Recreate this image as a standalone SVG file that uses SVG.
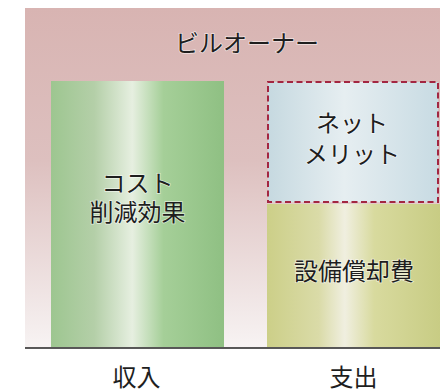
<svg xmlns="http://www.w3.org/2000/svg" width="440" height="391" viewBox="0 0 440 391">
<defs>
<linearGradient id="bg" x1="0" y1="0" x2="0" y2="1">
<stop offset="0" stop-color="#d8b4b2"/>
<stop offset="0.45" stop-color="#ddc0bf"/>
<stop offset="1" stop-color="#f7f3f3"/>
</linearGradient>
<linearGradient id="green" x1="0" y1="0" x2="1" y2="0">
<stop offset="0" stop-color="#9dc690"/>
<stop offset="0.25" stop-color="#b4cfa8"/>
<stop offset="0.47" stop-color="#e6efe0"/>
<stop offset="0.65" stop-color="#a5cf98"/>
<stop offset="1" stop-color="#8fc083"/>
</linearGradient>
<linearGradient id="blue" x1="0" y1="0" x2="1" y2="0">
<stop offset="0" stop-color="#c6d9e0"/>
<stop offset="0.45" stop-color="#e6eef1"/>
<stop offset="1" stop-color="#c8dbe3"/>
</linearGradient>
<linearGradient id="yellow" x1="0" y1="0" x2="1" y2="0">
<stop offset="0" stop-color="#cccf88"/>
<stop offset="0.3" stop-color="#dadba8"/>
<stop offset="0.45" stop-color="#f0efe0"/>
<stop offset="0.62" stop-color="#d8da9e"/>
<stop offset="1" stop-color="#c8cc84"/>
</linearGradient>
<style>
.t{font-family:"Noto Sans CJK JP","Noto Sans CJK SC",sans-serif;font-size:24px;fill:#1e1e1e;text-anchor:middle;stroke:#ffffff;stroke-width:1.5;stroke-opacity:0.6;paint-order:stroke}
</style>
</defs>
<g id="owner">
<rect x="25" y="8" width="415" height="340" fill="url(#bg)"/>
<text class="t" x="247" y="52">ビルオーナー</text>
</g>
<g id="cost">
<rect x="51" y="81" width="173" height="266" fill="url(#green)"/>
<text class="t" x="137.5" y="192">コスト</text>
<text class="t" x="137.5" y="221">削減効果</text>
</g>
<g id="net">
<rect x="268" y="82" width="170" height="120" fill="url(#blue)" stroke="#a32641" stroke-width="2" stroke-dasharray="6,3.5"/>
<text class="t" x="352" y="132">ネット</text>
<text class="t" x="352" y="163">メリット</text>
</g>
<g id="depr">
<rect x="267" y="204" width="173" height="143" fill="url(#yellow)"/>
<text class="t" x="354" y="280">設備償却費</text>
</g>
<g id="connectors">
<line x1="25" y1="348" x2="440" y2="348" stroke="#222" stroke-width="1.5"/>
</g>
<g id="labels">
<text class="t" x="136.5" y="386">収入</text>
<text class="t" x="353.5" y="386">支出</text>
</g>
</svg>
